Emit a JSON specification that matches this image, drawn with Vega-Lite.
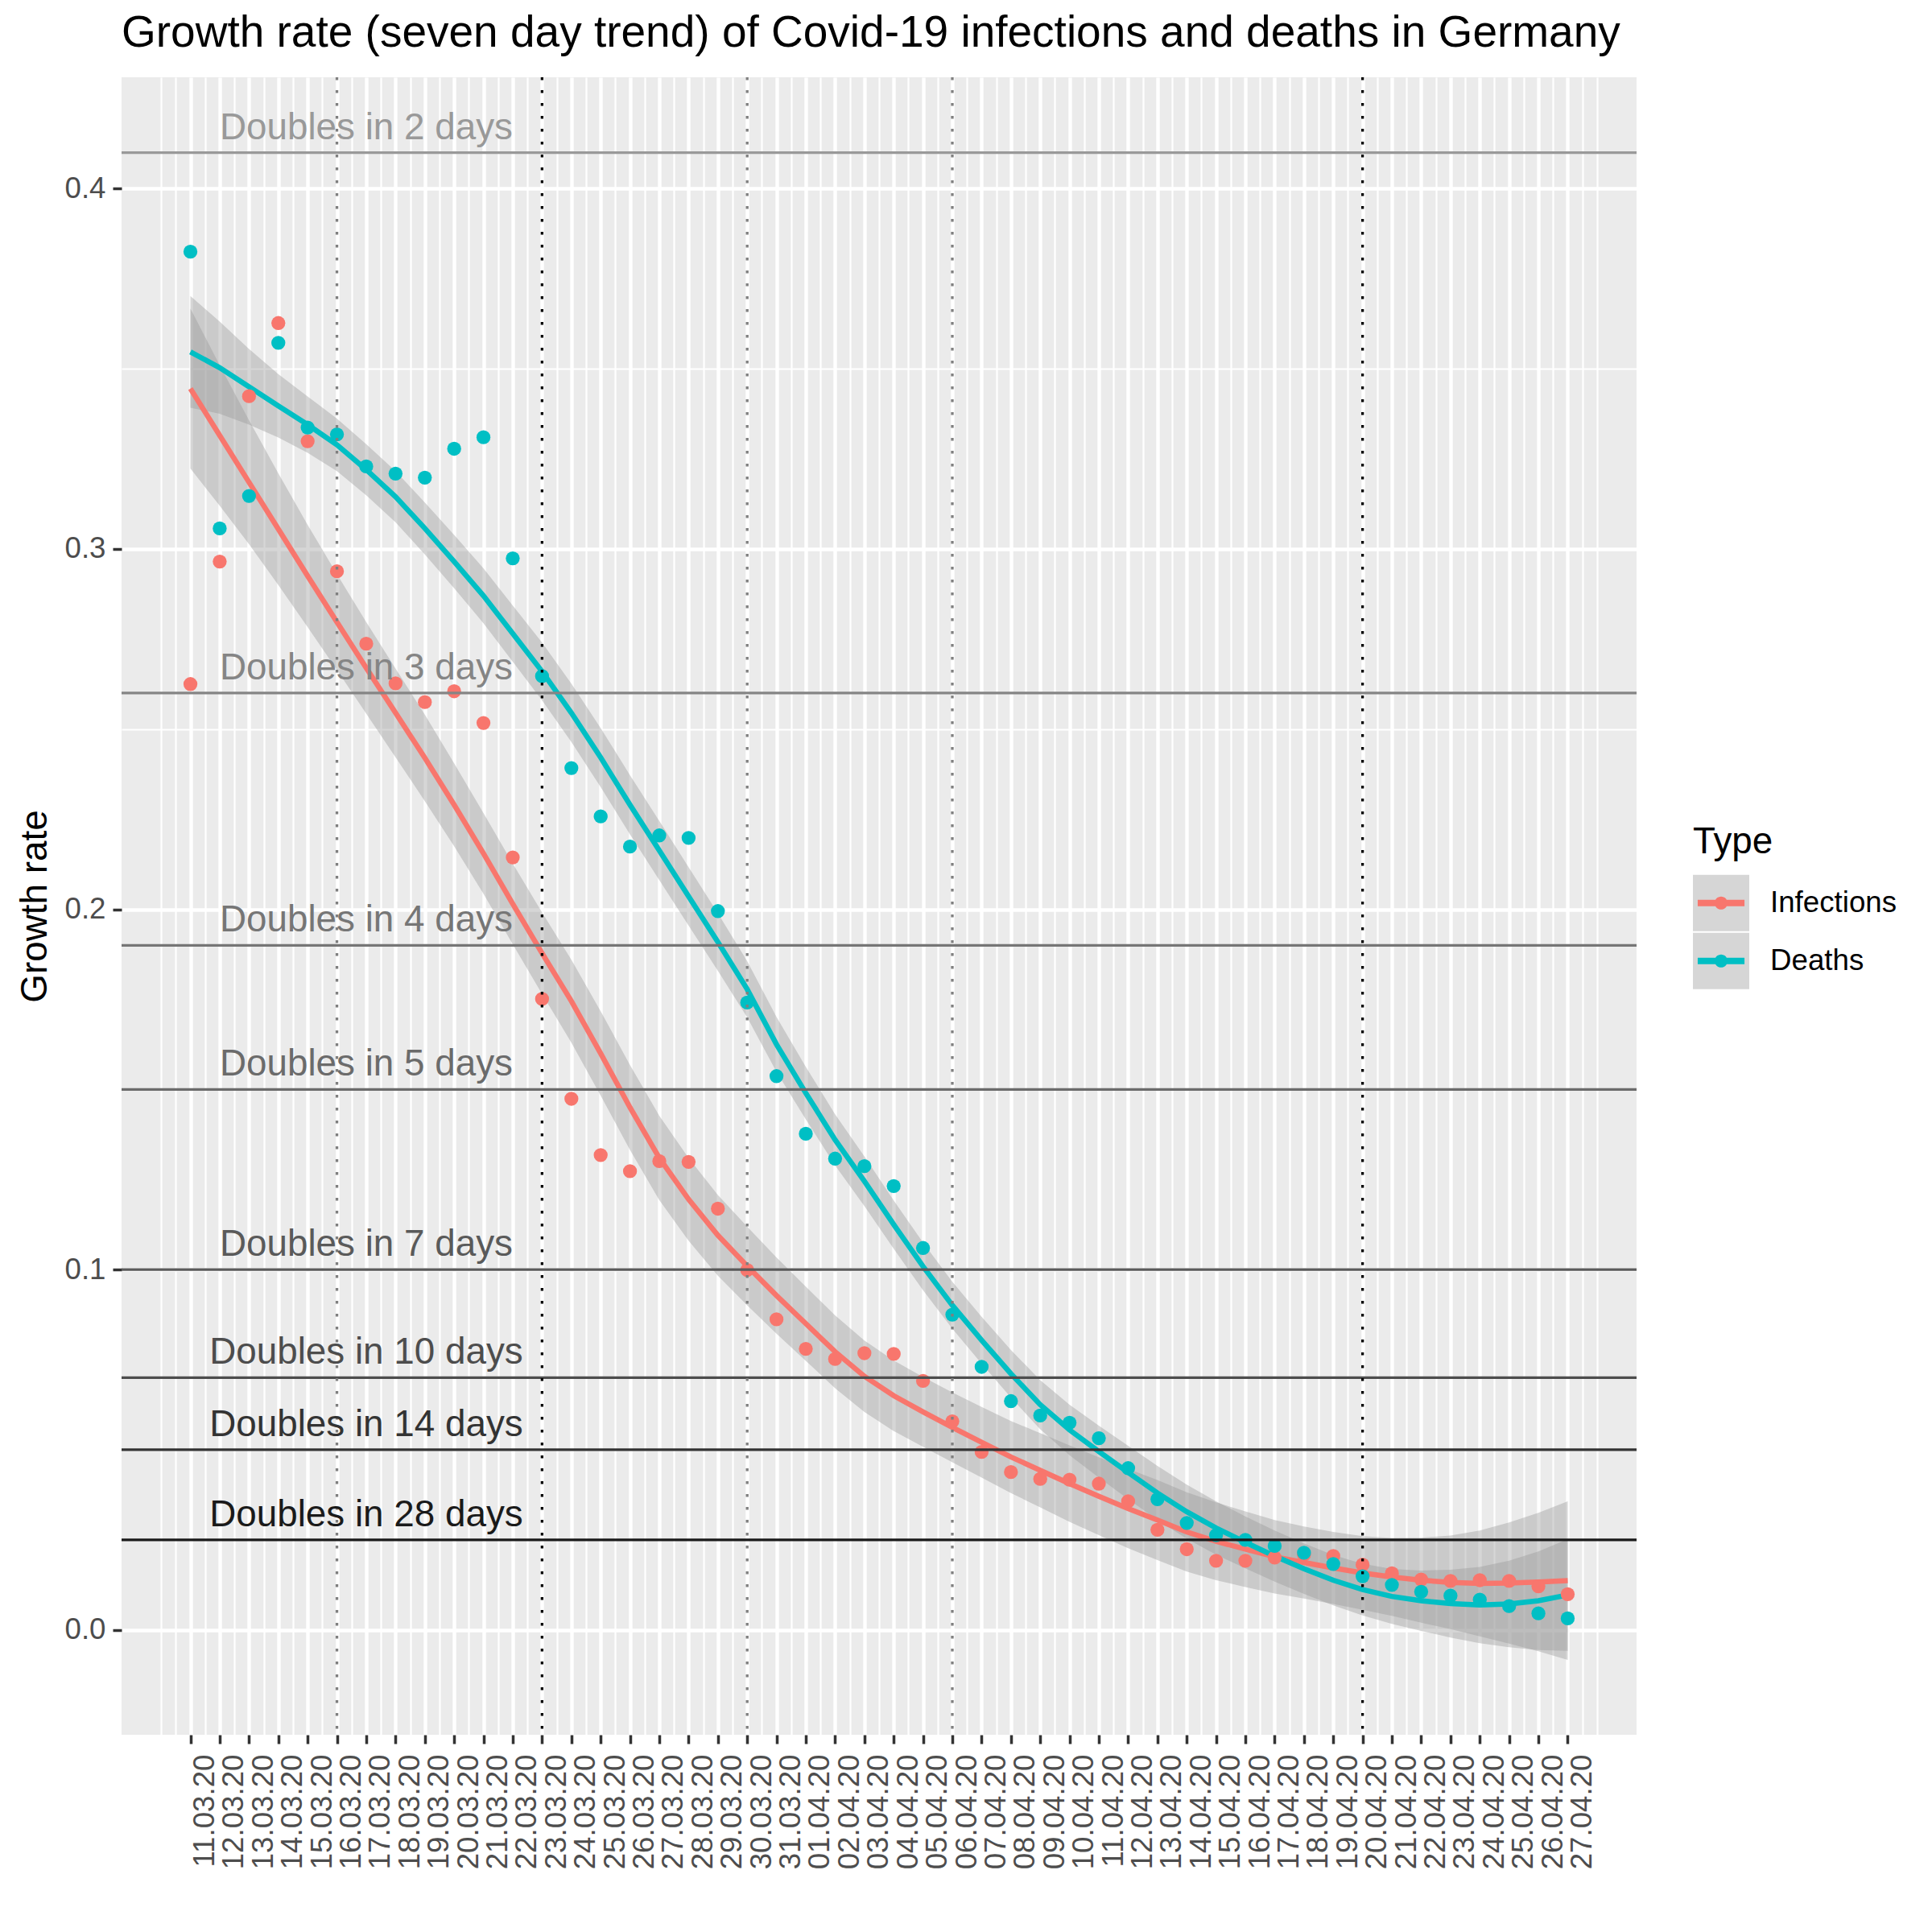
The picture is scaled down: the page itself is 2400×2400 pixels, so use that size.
{
  "$schema": "https://vega.github.io/schema/vega-lite/v6.json",
  "autosize": {"type": "none"},
  "padding": {"left": 151, "top": 96, "right": 367, "bottom": 245},
  "width": 1882,
  "height": 2059,
  "background": "#FFFFFF",
  "title": {
    "text": "Growth rate (seven day trend) of Covid-19 infections and deaths in Germany",
    "anchor": "start",
    "frame": "group",
    "fontSize": 55,
    "fontWeight": "normal",
    "color": "#000000",
    "offset": 21,
    "dy": 52,
    "baseline": "bottom"
  },
  "config": {
    "font": "Liberation Sans",
    "view": {"fill": "#EBEBEB", "stroke": null},
    "axis": {
      "domain": false,
      "tickColor": "#333333",
      "tickWidth": 3.5,
      "tickSize": 11,
      "labelColor": "#4D4D4D",
      "labelFontSize": 36.7,
      "labelPadding": 9,
      "gridColor": "#FFFFFF",
      "gridOpacity": 1,
      "titleFontWeight": "normal",
      "titleColor": "#000000",
      "titleFontSize": 45.8
    }
  },
  "resolve": {"axis": {"x": "independent", "y": "independent"}},
  "data": {
    "values": [
      {"d": "2020-03-11T00:00:00", "Type": "Infections", "rate": 0.2625, "fit": 0.3445, "lo": 0.3223, "hi": 0.3667},
      {"d": "2020-03-12T00:00:00", "Type": "Infections", "rate": 0.2965, "fit": 0.3315, "lo": 0.3120, "hi": 0.3510},
      {"d": "2020-03-13T00:00:00", "Type": "Infections", "rate": 0.3424, "fit": 0.3185, "lo": 0.3013, "hi": 0.3357},
      {"d": "2020-03-14T00:00:00", "Type": "Infections", "rate": 0.3627, "fit": 0.3055, "lo": 0.2900, "hi": 0.3210},
      {"d": "2020-03-15T00:00:00", "Type": "Infections", "rate": 0.3299, "fit": 0.2925, "lo": 0.2783, "hi": 0.3067},
      {"d": "2020-03-16T00:00:00", "Type": "Infections", "rate": 0.2938, "fit": 0.2797, "lo": 0.2664, "hi": 0.2930},
      {"d": "2020-03-17T00:00:00", "Type": "Infections", "rate": 0.2737, "fit": 0.2670, "lo": 0.2543, "hi": 0.2797},
      {"d": "2020-03-18T00:00:00", "Type": "Infections", "rate": 0.2627, "fit": 0.2545, "lo": 0.2422, "hi": 0.2668},
      {"d": "2020-03-19T00:00:00", "Type": "Infections", "rate": 0.2575, "fit": 0.2420, "lo": 0.2300, "hi": 0.2540},
      {"d": "2020-03-20T00:00:00", "Type": "Infections", "rate": 0.2605, "fit": 0.2290, "lo": 0.2175, "hi": 0.2405},
      {"d": "2020-03-21T00:00:00", "Type": "Infections", "rate": 0.2517, "fit": 0.2155, "lo": 0.2043, "hi": 0.2267},
      {"d": "2020-03-22T00:00:00", "Type": "Infections", "rate": 0.2144, "fit": 0.2015, "lo": 0.1903, "hi": 0.2127},
      {"d": "2020-03-23T00:00:00", "Type": "Infections", "rate": 0.1751, "fit": 0.1878, "lo": 0.1765, "hi": 0.1991},
      {"d": "2020-03-24T00:00:00", "Type": "Infections", "rate": 0.1474, "fit": 0.1745, "lo": 0.1630, "hi": 0.1860},
      {"d": "2020-03-25T00:00:00", "Type": "Infections", "rate": 0.1318, "fit": 0.1600, "lo": 0.1483, "hi": 0.1717},
      {"d": "2020-03-26T00:00:00", "Type": "Infections", "rate": 0.1273, "fit": 0.1450, "lo": 0.1332, "hi": 0.1568},
      {"d": "2020-03-27T00:00:00", "Type": "Infections", "rate": 0.1301, "fit": 0.1310, "lo": 0.1193, "hi": 0.1427},
      {"d": "2020-03-28T00:00:00", "Type": "Infections", "rate": 0.1299, "fit": 0.1195, "lo": 0.1080, "hi": 0.1310},
      {"d": "2020-03-29T00:00:00", "Type": "Infections", "rate": 0.1169, "fit": 0.1095, "lo": 0.0983, "hi": 0.1207},
      {"d": "2020-03-30T00:00:00", "Type": "Infections", "rate": 0.0999, "fit": 0.1010, "lo": 0.0901, "hi": 0.1119},
      {"d": "2020-03-31T00:00:00", "Type": "Infections", "rate": 0.0862, "fit": 0.0928, "lo": 0.0822, "hi": 0.1034},
      {"d": "2020-04-01T00:00:00", "Type": "Infections", "rate": 0.0780, "fit": 0.0850, "lo": 0.0747, "hi": 0.0953},
      {"d": "2020-04-02T00:00:00", "Type": "Infections", "rate": 0.0752, "fit": 0.0772, "lo": 0.0671, "hi": 0.0873},
      {"d": "2020-04-03T00:00:00", "Type": "Infections", "rate": 0.0768, "fit": 0.0704, "lo": 0.0605, "hi": 0.0803},
      {"d": "2020-04-04T00:00:00", "Type": "Infections", "rate": 0.0766, "fit": 0.0650, "lo": 0.0552, "hi": 0.0748},
      {"d": "2020-04-05T00:00:00", "Type": "Infections", "rate": 0.0691, "fit": 0.0605, "lo": 0.0508, "hi": 0.0702},
      {"d": "2020-04-06T00:00:00", "Type": "Infections", "rate": 0.0579, "fit": 0.0562, "lo": 0.0465, "hi": 0.0659},
      {"d": "2020-04-07T00:00:00", "Type": "Infections", "rate": 0.0494, "fit": 0.0521, "lo": 0.0423, "hi": 0.0619},
      {"d": "2020-04-08T00:00:00", "Type": "Infections", "rate": 0.0438, "fit": 0.0480, "lo": 0.0380, "hi": 0.0580},
      {"d": "2020-04-09T00:00:00", "Type": "Infections", "rate": 0.0419, "fit": 0.0443, "lo": 0.0340, "hi": 0.0546},
      {"d": "2020-04-10T00:00:00", "Type": "Infections", "rate": 0.0417, "fit": 0.0406, "lo": 0.0300, "hi": 0.0512},
      {"d": "2020-04-11T00:00:00", "Type": "Infections", "rate": 0.0406, "fit": 0.0371, "lo": 0.0263, "hi": 0.0479},
      {"d": "2020-04-12T00:00:00", "Type": "Infections", "rate": 0.0357, "fit": 0.0337, "lo": 0.0227, "hi": 0.0447},
      {"d": "2020-04-13T00:00:00", "Type": "Infections", "rate": 0.0278, "fit": 0.0305, "lo": 0.0194, "hi": 0.0416},
      {"d": "2020-04-14T00:00:00", "Type": "Infections", "rate": 0.0224, "fit": 0.0272, "lo": 0.0162, "hi": 0.0382},
      {"d": "2020-04-15T00:00:00", "Type": "Infections", "rate": 0.0192, "fit": 0.0246, "lo": 0.0138, "hi": 0.0354},
      {"d": "2020-04-16T00:00:00", "Type": "Infections", "rate": 0.0192, "fit": 0.0224, "lo": 0.0119, "hi": 0.0329},
      {"d": "2020-04-17T00:00:00", "Type": "Infections", "rate": 0.0201, "fit": 0.0203, "lo": 0.0101, "hi": 0.0305},
      {"d": "2020-04-18T00:00:00", "Type": "Infections", "rate": 0.0209, "fit": 0.0187, "lo": 0.0087, "hi": 0.0287},
      {"d": "2020-04-19T00:00:00", "Type": "Infections", "rate": 0.0205, "fit": 0.0172, "lo": 0.0072, "hi": 0.0272},
      {"d": "2020-04-20T00:00:00", "Type": "Infections", "rate": 0.0181, "fit": 0.0158, "lo": 0.0056, "hi": 0.0260},
      {"d": "2020-04-21T00:00:00", "Type": "Infections", "rate": 0.0157, "fit": 0.0147, "lo": 0.0039, "hi": 0.0255},
      {"d": "2020-04-22T00:00:00", "Type": "Infections", "rate": 0.0140, "fit": 0.0138, "lo": 0.0020, "hi": 0.0256},
      {"d": "2020-04-23T00:00:00", "Type": "Infections", "rate": 0.0136, "fit": 0.0132, "lo": 0.0002, "hi": 0.0262},
      {"d": "2020-04-24T00:00:00", "Type": "Infections", "rate": 0.0138, "fit": 0.0129, "lo": -0.0018, "hi": 0.0276},
      {"d": "2020-04-25T00:00:00", "Type": "Infections", "rate": 0.0136, "fit": 0.0130, "lo": -0.0038, "hi": 0.0298},
      {"d": "2020-04-26T00:00:00", "Type": "Infections", "rate": 0.0121, "fit": 0.0133, "lo": -0.0059, "hi": 0.0325},
      {"d": "2020-04-27T00:00:00", "Type": "Infections", "rate": 0.0099, "fit": 0.0137, "lo": -0.0083, "hi": 0.0357},
      {"d": "2020-03-11T00:00:00", "Type": "Deaths", "rate": 0.3825, "fit": 0.3547, "lo": 0.3392, "hi": 0.3702},
      {"d": "2020-03-12T00:00:00", "Type": "Deaths", "rate": 0.3057, "fit": 0.3503, "lo": 0.3375, "hi": 0.3631},
      {"d": "2020-03-13T00:00:00", "Type": "Deaths", "rate": 0.3147, "fit": 0.3450, "lo": 0.3345, "hi": 0.3555},
      {"d": "2020-03-14T00:00:00", "Type": "Deaths", "rate": 0.3572, "fit": 0.3397, "lo": 0.3309, "hi": 0.3485},
      {"d": "2020-03-15T00:00:00", "Type": "Deaths", "rate": 0.3337, "fit": 0.3345, "lo": 0.3267, "hi": 0.3423},
      {"d": "2020-03-16T00:00:00", "Type": "Deaths", "rate": 0.3318, "fit": 0.3289, "lo": 0.3216, "hi": 0.3362},
      {"d": "2020-03-17T00:00:00", "Type": "Deaths", "rate": 0.3229, "fit": 0.3220, "lo": 0.3149, "hi": 0.3291},
      {"d": "2020-03-18T00:00:00", "Type": "Deaths", "rate": 0.3209, "fit": 0.3145, "lo": 0.3074, "hi": 0.3216},
      {"d": "2020-03-19T00:00:00", "Type": "Deaths", "rate": 0.3198, "fit": 0.3057, "lo": 0.2985, "hi": 0.3129},
      {"d": "2020-03-20T00:00:00", "Type": "Deaths", "rate": 0.3278, "fit": 0.2965, "lo": 0.2891, "hi": 0.3039},
      {"d": "2020-03-21T00:00:00", "Type": "Deaths", "rate": 0.3310, "fit": 0.2870, "lo": 0.2794, "hi": 0.2946},
      {"d": "2020-03-22T00:00:00", "Type": "Deaths", "rate": 0.2974, "fit": 0.2765, "lo": 0.2687, "hi": 0.2843},
      {"d": "2020-03-23T00:00:00", "Type": "Deaths", "rate": 0.2647, "fit": 0.2660, "lo": 0.2580, "hi": 0.2740},
      {"d": "2020-03-24T00:00:00", "Type": "Deaths", "rate": 0.2392, "fit": 0.2545, "lo": 0.2464, "hi": 0.2626},
      {"d": "2020-03-25T00:00:00", "Type": "Deaths", "rate": 0.2258, "fit": 0.2421, "lo": 0.2339, "hi": 0.2503},
      {"d": "2020-03-26T00:00:00", "Type": "Deaths", "rate": 0.2174, "fit": 0.2290, "lo": 0.2208, "hi": 0.2372},
      {"d": "2020-03-27T00:00:00", "Type": "Deaths", "rate": 0.2205, "fit": 0.2163, "lo": 0.2081, "hi": 0.2245},
      {"d": "2020-03-28T00:00:00", "Type": "Deaths", "rate": 0.2198, "fit": 0.2036, "lo": 0.1955, "hi": 0.2117},
      {"d": "2020-03-29T00:00:00", "Type": "Deaths", "rate": 0.1995, "fit": 0.1909, "lo": 0.1829, "hi": 0.1989},
      {"d": "2020-03-30T00:00:00", "Type": "Deaths", "rate": 0.1741, "fit": 0.1778, "lo": 0.1700, "hi": 0.1856},
      {"d": "2020-03-31T00:00:00", "Type": "Deaths", "rate": 0.1537, "fit": 0.1625, "lo": 0.1549, "hi": 0.1701},
      {"d": "2020-04-01T00:00:00", "Type": "Deaths", "rate": 0.1377, "fit": 0.1490, "lo": 0.1417, "hi": 0.1563},
      {"d": "2020-04-02T00:00:00", "Type": "Deaths", "rate": 0.1308, "fit": 0.1360, "lo": 0.1289, "hi": 0.1431},
      {"d": "2020-04-03T00:00:00", "Type": "Deaths", "rate": 0.1287, "fit": 0.1245, "lo": 0.1176, "hi": 0.1314},
      {"d": "2020-04-04T00:00:00", "Type": "Deaths", "rate": 0.1232, "fit": 0.1125, "lo": 0.1058, "hi": 0.1192},
      {"d": "2020-04-05T00:00:00", "Type": "Deaths", "rate": 0.1060, "fit": 0.1009, "lo": 0.0943, "hi": 0.1075},
      {"d": "2020-04-06T00:00:00", "Type": "Deaths", "rate": 0.0875, "fit": 0.0901, "lo": 0.0836, "hi": 0.0966},
      {"d": "2020-04-07T00:00:00", "Type": "Deaths", "rate": 0.0730, "fit": 0.0804, "lo": 0.0739, "hi": 0.0869},
      {"d": "2020-04-08T00:00:00", "Type": "Deaths", "rate": 0.0635, "fit": 0.0711, "lo": 0.0645, "hi": 0.0777},
      {"d": "2020-04-09T00:00:00", "Type": "Deaths", "rate": 0.0595, "fit": 0.0625, "lo": 0.0557, "hi": 0.0693},
      {"d": "2020-04-10T00:00:00", "Type": "Deaths", "rate": 0.0575, "fit": 0.0555, "lo": 0.0485, "hi": 0.0625},
      {"d": "2020-04-11T00:00:00", "Type": "Deaths", "rate": 0.0532, "fit": 0.0495, "lo": 0.0423, "hi": 0.0567},
      {"d": "2020-04-12T00:00:00", "Type": "Deaths", "rate": 0.0449, "fit": 0.0437, "lo": 0.0363, "hi": 0.0511},
      {"d": "2020-04-13T00:00:00", "Type": "Deaths", "rate": 0.0363, "fit": 0.0380, "lo": 0.0305, "hi": 0.0455},
      {"d": "2020-04-14T00:00:00", "Type": "Deaths", "rate": 0.0297, "fit": 0.0328, "lo": 0.0253, "hi": 0.0403},
      {"d": "2020-04-15T00:00:00", "Type": "Deaths", "rate": 0.0263, "fit": 0.0283, "lo": 0.0209, "hi": 0.0357},
      {"d": "2020-04-16T00:00:00", "Type": "Deaths", "rate": 0.0250, "fit": 0.0243, "lo": 0.0171, "hi": 0.0315},
      {"d": "2020-04-17T00:00:00", "Type": "Deaths", "rate": 0.0233, "fit": 0.0205, "lo": 0.0134, "hi": 0.0276},
      {"d": "2020-04-18T00:00:00", "Type": "Deaths", "rate": 0.0214, "fit": 0.0170, "lo": 0.0100, "hi": 0.0240},
      {"d": "2020-04-19T00:00:00", "Type": "Deaths", "rate": 0.0183, "fit": 0.0138, "lo": 0.0068, "hi": 0.0208},
      {"d": "2020-04-20T00:00:00", "Type": "Deaths", "rate": 0.0149, "fit": 0.0112, "lo": 0.0040, "hi": 0.0184},
      {"d": "2020-04-21T00:00:00", "Type": "Deaths", "rate": 0.0125, "fit": 0.0093, "lo": 0.0017, "hi": 0.0169},
      {"d": "2020-04-22T00:00:00", "Type": "Deaths", "rate": 0.0106, "fit": 0.0081, "lo": -0.0003, "hi": 0.0165},
      {"d": "2020-04-23T00:00:00", "Type": "Deaths", "rate": 0.0095, "fit": 0.0073, "lo": -0.0021, "hi": 0.0167},
      {"d": "2020-04-24T00:00:00", "Type": "Deaths", "rate": 0.0084, "fit": 0.0069, "lo": -0.0037, "hi": 0.0175},
      {"d": "2020-04-25T00:00:00", "Type": "Deaths", "rate": 0.0066, "fit": 0.0072, "lo": -0.0048, "hi": 0.0192},
      {"d": "2020-04-26T00:00:00", "Type": "Deaths", "rate": 0.0046, "fit": 0.0081, "lo": -0.0056, "hi": 0.0218},
      {"d": "2020-04-27T00:00:00", "Type": "Deaths", "rate": 0.0032, "fit": 0.0097, "lo": -0.0058, "hi": 0.0252}
    ]
  },
  "layer": [
    {
      "transform": [{"filter": "isValid(datum.lo)"}],
      "mark": {"type": "area", "fill": "#999999"},
      "encoding": {
        "x": {
          "field": "d",
          "type": "temporal",
          "scale": {
            "domain": [
              {"year": 2020, "month": 3, "date": 8, "hours": 15, "minutes": 36},
              {"year": 2020, "month": 4, "date": 29, "hours": 8, "minutes": 24}
            ]
          },
          "axis": {
            "orient": "bottom",
            "title": null,
            "values": [
              {"year": 2020, "month": 3, "date": 11}, {"year": 2020, "month": 3, "date": 12}, {"year": 2020, "month": 3, "date": 13},
              {"year": 2020, "month": 3, "date": 14}, {"year": 2020, "month": 3, "date": 15}, {"year": 2020, "month": 3, "date": 16},
              {"year": 2020, "month": 3, "date": 17}, {"year": 2020, "month": 3, "date": 18}, {"year": 2020, "month": 3, "date": 19},
              {"year": 2020, "month": 3, "date": 20}, {"year": 2020, "month": 3, "date": 21}, {"year": 2020, "month": 3, "date": 22},
              {"year": 2020, "month": 3, "date": 23}, {"year": 2020, "month": 3, "date": 24}, {"year": 2020, "month": 3, "date": 25},
              {"year": 2020, "month": 3, "date": 26}, {"year": 2020, "month": 3, "date": 27}, {"year": 2020, "month": 3, "date": 28},
              {"year": 2020, "month": 3, "date": 29}, {"year": 2020, "month": 3, "date": 30}, {"year": 2020, "month": 3, "date": 31},
              {"year": 2020, "month": 4, "date": 1}, {"year": 2020, "month": 4, "date": 2}, {"year": 2020, "month": 4, "date": 3},
              {"year": 2020, "month": 4, "date": 4}, {"year": 2020, "month": 4, "date": 5}, {"year": 2020, "month": 4, "date": 6},
              {"year": 2020, "month": 4, "date": 7}, {"year": 2020, "month": 4, "date": 8}, {"year": 2020, "month": 4, "date": 9},
              {"year": 2020, "month": 4, "date": 10}, {"year": 2020, "month": 4, "date": 11}, {"year": 2020, "month": 4, "date": 12},
              {"year": 2020, "month": 4, "date": 13}, {"year": 2020, "month": 4, "date": 14}, {"year": 2020, "month": 4, "date": 15},
              {"year": 2020, "month": 4, "date": 16}, {"year": 2020, "month": 4, "date": 17}, {"year": 2020, "month": 4, "date": 18},
              {"year": 2020, "month": 4, "date": 19}, {"year": 2020, "month": 4, "date": 20}, {"year": 2020, "month": 4, "date": 21},
              {"year": 2020, "month": 4, "date": 22}, {"year": 2020, "month": 4, "date": 23}, {"year": 2020, "month": 4, "date": 24},
              {"year": 2020, "month": 4, "date": 25}, {"year": 2020, "month": 4, "date": 26}, {"year": 2020, "month": 4, "date": 27}
            ],
            "format": "%d.%m.%y",
            "labelAngle": 270,
            "labelAlign": "right",
            "labelBaseline": "top",
            "labelPadding": 13,
            "labelOverlap": false,
            "labelFlush": false,
            "labelBound": false,
            "grid": true,
            "gridWidth": 4.4
          }
        },
        "y": {
          "field": "lo",
          "type": "quantitative",
          "scale": {"domain": [-0.0291, 0.4309], "nice": false, "zero": false},
          "axis": {
            "orient": "left",
            "title": "Growth rate",
            "titlePadding": 12,
            "values": [0, 0.1, 0.2, 0.3, 0.4],
            "format": ".1f",
            "grid": true,
            "gridWidth": 4.4
          }
        },
        "y2": {"field": "hi"},
        "detail": {"field": "Type", "type": "nominal"},
        "opacity": {
          "field": "Type",
          "type": "nominal",
          "sort": "descending",
          "scale": {"range": [0.4, 0.4]},
          "legend": {
            "orient": "none",
            "legendX": 1952,
            "legendY": 928,
            "padding": 0,
            "title": "Type",
            "titleFontSize": 45.8,
            "titleFontWeight": "normal",
            "titleColor": "#000000",
            "titlePadding": 17,
            "symbolType": "square",
            "symbolSize": 4900,
            "symbolFillColor": "#828282",
            "symbolStrokeWidth": 0,
            "labelExpr": "''",
            "labelFontSize": 36.7,
            "labelOffset": 26,
            "rowPadding": 2
          }
        }
      }
    },
    {
      "mark": {"type": "line", "strokeWidth": 6.5},
      "encoding": {
        "x": {
          "field": "d",
          "type": "temporal",
          "axis": {
            "orient": "top",
            "title": null,
            "labels": false,
            "ticks": false,
            "domain": false,
            "grid": true,
            "gridWidth": 2.2,
            "values": [
              {"year": 2020, "month": 3, "date": 10}, {"year": 2020, "month": 3, "date": 10, "hours": 12},
              {"year": 2020, "month": 3, "date": 11, "hours": 12}, {"year": 2020, "month": 3, "date": 12, "hours": 12},
              {"year": 2020, "month": 3, "date": 13, "hours": 12}, {"year": 2020, "month": 3, "date": 14, "hours": 12},
              {"year": 2020, "month": 3, "date": 15, "hours": 12}, {"year": 2020, "month": 3, "date": 16, "hours": 12},
              {"year": 2020, "month": 3, "date": 17, "hours": 12}, {"year": 2020, "month": 3, "date": 18, "hours": 12},
              {"year": 2020, "month": 3, "date": 19, "hours": 12}, {"year": 2020, "month": 3, "date": 20, "hours": 12},
              {"year": 2020, "month": 3, "date": 21, "hours": 12}, {"year": 2020, "month": 3, "date": 22, "hours": 12},
              {"year": 2020, "month": 3, "date": 23, "hours": 12}, {"year": 2020, "month": 3, "date": 24, "hours": 12},
              {"year": 2020, "month": 3, "date": 25, "hours": 12}, {"year": 2020, "month": 3, "date": 26, "hours": 12},
              {"year": 2020, "month": 3, "date": 27, "hours": 12}, {"year": 2020, "month": 3, "date": 28, "hours": 12},
              {"year": 2020, "month": 3, "date": 29, "hours": 12}, {"year": 2020, "month": 3, "date": 30, "hours": 12},
              {"year": 2020, "month": 3, "date": 31, "hours": 12}, {"year": 2020, "month": 4, "date": 1, "hours": 12},
              {"year": 2020, "month": 4, "date": 2, "hours": 12}, {"year": 2020, "month": 4, "date": 3, "hours": 12},
              {"year": 2020, "month": 4, "date": 4, "hours": 12}, {"year": 2020, "month": 4, "date": 5, "hours": 12},
              {"year": 2020, "month": 4, "date": 6, "hours": 12}, {"year": 2020, "month": 4, "date": 7, "hours": 12},
              {"year": 2020, "month": 4, "date": 8, "hours": 12}, {"year": 2020, "month": 4, "date": 9, "hours": 12},
              {"year": 2020, "month": 4, "date": 10, "hours": 12}, {"year": 2020, "month": 4, "date": 11, "hours": 12},
              {"year": 2020, "month": 4, "date": 12, "hours": 12}, {"year": 2020, "month": 4, "date": 13, "hours": 12},
              {"year": 2020, "month": 4, "date": 14, "hours": 12}, {"year": 2020, "month": 4, "date": 15, "hours": 12},
              {"year": 2020, "month": 4, "date": 16, "hours": 12}, {"year": 2020, "month": 4, "date": 17, "hours": 12},
              {"year": 2020, "month": 4, "date": 18, "hours": 12}, {"year": 2020, "month": 4, "date": 19, "hours": 12},
              {"year": 2020, "month": 4, "date": 20, "hours": 12}, {"year": 2020, "month": 4, "date": 21, "hours": 12},
              {"year": 2020, "month": 4, "date": 22, "hours": 12}, {"year": 2020, "month": 4, "date": 23, "hours": 12},
              {"year": 2020, "month": 4, "date": 24, "hours": 12}, {"year": 2020, "month": 4, "date": 25, "hours": 12},
              {"year": 2020, "month": 4, "date": 26, "hours": 12}, {"year": 2020, "month": 4, "date": 27, "hours": 12},
              {"year": 2020, "month": 4, "date": 28}
            ]
          }
        },
        "y": {
          "field": "fit",
          "type": "quantitative",
          "axis": {
            "orient": "right",
            "title": null,
            "labels": false,
            "ticks": false,
            "domain": false,
            "grid": true,
            "gridWidth": 2.2,
            "values": [0.05, 0.15, 0.25, 0.35]
          }
        },
        "stroke": {
          "field": "Type",
          "type": "nominal",
          "scale": {"domain": ["Infections", "Deaths"], "range": ["#F8766D", "#00BFC4"]},
          "legend": {
            "orient": "none",
            "legendX": 1952,
            "legendY": 928,
            "padding": 0,
            "title": "Type",
            "titleOpacity": 0,
            "titleFontSize": 45.8,
            "titleFontWeight": "normal",
            "titlePadding": 17,
            "symbolType": "M -1 -1 Z M 1 1 Z M -0.83 -0.115 L 0.83 -0.115 L 0.83 0.115 L -0.83 0.115 Z M 0.23 0 A 0.23 0.23 0 1 1 -0.23 0 A 0.23 0.23 0 1 1 0.23 0 Z",
            "symbolSize": 4900,
            "symbolStrokeWidth": 0,
            "symbolOpacity": 1,
            "labelFontSize": 36.7,
            "labelColor": "#000000",
            "labelOffset": 26,
            "rowPadding": 2
          }
        }
      }
    },
    {
      "mark": {"type": "point", "filled": true, "size": 300, "opacity": 1, "strokeWidth": 0},
      "encoding": {
        "x": {"field": "d", "type": "temporal", "axis": null},
        "y": {"field": "rate", "type": "quantitative", "axis": null},
        "fill": {
          "field": "Type",
          "type": "nominal",
          "scale": {"domain": ["Infections", "Deaths"], "range": ["#F8766D", "#00BFC4"]},
          "legend": {
            "orient": "none",
            "legendX": 1952,
            "legendY": 928,
            "padding": 0,
            "title": "Type",
            "titleOpacity": 0,
            "titleFontSize": 45.8,
            "titleFontWeight": "normal",
            "titlePadding": 17,
            "symbolType": "M -1 -1 Z M 1 1 Z M -0.83 -0.115 L 0.83 -0.115 L 0.83 0.115 L -0.83 0.115 Z M 0.23 0 A 0.23 0.23 0 1 1 -0.23 0 A 0.23 0.23 0 1 1 0.23 0 Z",
            "symbolSize": 4900,
            "symbolStrokeWidth": 0,
            "symbolOpacity": 1,
            "labelFontSize": 36.7,
            "labelColor": "#000000",
            "labelOffset": 26,
            "rowPadding": 2
          }
        }
      }
    },
    {
      "data": {
        "values": [
          {"label": "Doubles in 2 days", "growth": 0.41},
          {"label": "Doubles in 3 days", "growth": 0.26},
          {"label": "Doubles in 4 days", "growth": 0.19},
          {"label": "Doubles in 5 days", "growth": 0.15},
          {"label": "Doubles in 7 days", "growth": 0.10},
          {"label": "Doubles in 10 days", "growth": 0.07},
          {"label": "Doubles in 14 days", "growth": 0.05},
          {"label": "Doubles in 28 days", "growth": 0.025}
        ]
      },
      "mark": {"type": "rule", "strokeWidth": 3.2},
      "encoding": {
        "y": {"field": "growth", "type": "quantitative", "axis": null},
        "color": {
          "field": "label",
          "type": "nominal",
          "scale": {
            "domain": ["Doubles in 2 days", "Doubles in 3 days", "Doubles in 4 days", "Doubles in 5 days", "Doubles in 7 days", "Doubles in 10 days", "Doubles in 14 days", "Doubles in 28 days", "minor", "major"],
            "range": ["#999999", "#858585", "#767676", "#6b6b6b", "#5a5a5a", "#4d4d4d", "#333333", "#1a1a1a", "#7f7f7f", "#000000"]
          },
          "legend": null
        }
      }
    },
    {
      "data": {
        "values": [
          {"d": "2020-03-16T00:00:00", "kind": "minor"},
          {"d": "2020-03-23T00:00:00", "kind": "major"},
          {"d": "2020-03-30T00:00:00", "kind": "minor"},
          {"d": "2020-04-06T00:00:00", "kind": "minor"},
          {"d": "2020-04-20T00:00:00", "kind": "major"}
        ]
      },
      "mark": {"type": "rule", "strokeWidth": 3.3, "strokeDash": [3.5, 12.5]},
      "encoding": {
        "x": {"field": "d", "type": "temporal", "axis": null},
        "color": {"field": "kind", "type": "nominal", "legend": null}
      }
    },
    {
      "data": {
        "values": [
          {"label": "Doubles in 2 days", "growth": 0.41},
          {"label": "Doubles in 3 days", "growth": 0.26},
          {"label": "Doubles in 4 days", "growth": 0.19},
          {"label": "Doubles in 5 days", "growth": 0.15},
          {"label": "Doubles in 7 days", "growth": 0.10},
          {"label": "Doubles in 10 days", "growth": 0.07},
          {"label": "Doubles in 14 days", "growth": 0.05},
          {"label": "Doubles in 28 days", "growth": 0.025}
        ]
      },
      "mark": {"type": "text", "fontSize": 45.8, "align": "center", "baseline": "alphabetic", "dy": -17},
      "encoding": {
        "x": {"datum": {"year": 2020, "month": 3, "date": 17}, "type": "temporal", "axis": null},
        "y": {"field": "growth", "type": "quantitative", "axis": null},
        "text": {"field": "label"},
        "color": {"field": "label", "type": "nominal", "legend": null}
      }
    }
  ]
}
